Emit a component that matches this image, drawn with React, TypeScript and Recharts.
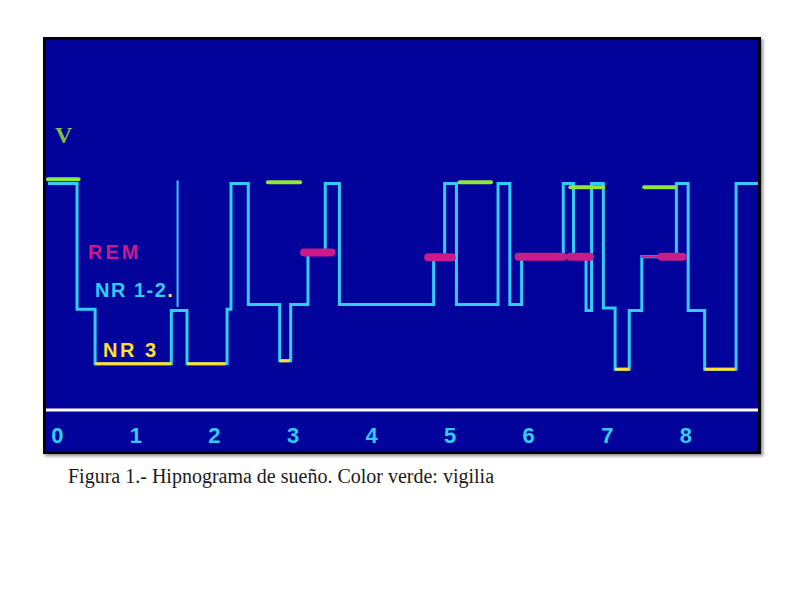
import { LineChart, Line, XAxis, YAxis } from "recharts";

// hours of sleep on the x axis
const hourTicks = [0, 1, 2, 3, 4, 5, 6, 7, 8];

// cyan hypnogram, stepAfter: V ≈ 4, REM ≈ 2.8, NR 1-2 ≈ 2, NR 3 ≈ 1
const stepHours = [
  -0.12, 0.25, 0.48, 1.45, 1.65, 2.16, 2.21, 2.43, 2.83, 2.97, 3.19, 3.41,
  3.59, 4.79, 4.93, 5.08, 5.61, 5.76, 5.91, 6.44, 6.57, 6.73, 6.8, 6.95, 7.1, 7.28, 7.44,
  7.88, 8.03, 8.24, 8.64, 8.92,
];
const stepLevels = [
  4.0, 1.92, 1.02, 1.9, 1.02, 1.92, 4.0, 2.0, 1.07, 2.0, 2.86, 4.0,
  2.0, 2.78, 4.0, 2.0, 4.0, 2.0, 2.79, 4.0, 2.79, 1.9, 4.0, 1.94, 0.93, 1.9, 2.79,
  4.0, 1.9, 0.93, 4.0, 4.0,
];

// thin brief arousal spike [hour, from, to]
const spikes = [[1.53, 1.96, 4.05]];

// green marks = vigilia [start, end, level]
const wakeMarks = [
  [-0.12, 0.27, 4.07],
  [2.68, 3.09, 4.02],
  [5.12, 5.52, 4.02],
  [6.53, 6.95, 3.94],
  [7.47, 7.86, 3.94],
];

// magenta REM blobs [start, end, level, width]
const remMarks = [
  [3.14, 3.49, 2.86, 8],
  [4.72, 5.02, 2.78, 8],
  [5.87, 6.44, 2.79, 8],
  [6.53, 6.78, 2.79, 8],
  [7.44, 7.71, 2.79, 2],
  [7.69, 7.96, 2.79, 8],
];

// yellow NR 3 floors [start, end, level]
const deepMarks = [
  [0.48, 1.45, 1.02],
  [1.65, 2.14, 1.02],
  [2.83, 2.96, 1.07],
  [7.1, 7.28, 0.93],
  [8.24, 8.63, 0.93],
];

const hypno = stepHours.map((h, i) => ({ h, v: stepLevels[i] }));
const seg = (a: number, b: number, v: number) => [
  { h: a, v },
  { h: b, v },
];

const CYAN = "#33ccff";
const GREEN = "#8ee83c";
const MAGENTA = "#cc1a8c";
const YELLOW = "#ffe033";
const BG = "#02039a";

export default function App() {
  return (
    <div style={{ position: "absolute", left: 0, top: 0, width: 800, height: 600, background: "#fff" }}>
      <div
        style={{
          position: "absolute",
          left: 43,
          top: 37,
          width: 718,
          height: 417,
          boxSizing: "border-box",
          border: "3px solid #000",
          background: BG,
          boxShadow: "2px 2px 3px rgba(0,0,0,0.45)",
        }}
      >
        <LineChart width={712} height={411} margin={{ top: 0, right: 0, bottom: 0, left: 0 }}>
          <XAxis
            type="number"
            dataKey="h"
            domain={[-0.145, 8.919]}
            ticks={hourTicks}
            allowDataOverflow
            height={41}
            axisLine={{ stroke: "#ffffff", strokeWidth: 3 }}
            tickLine={false}
            tickSize={0}
            tickMargin={17}
            tick={{ fill: CYAN, fontSize: 22, fontWeight: 700, fontFamily: "Liberation Sans, Arial, sans-serif" }}
          />
          <YAxis type="number" dataKey="v" domain={[0.256, 6.372]} hide allowDataOverflow />
          <Line
            data={hypno}
            dataKey="v"
            type="stepAfter"
            stroke={CYAN}
            strokeWidth={3}
            dot={false}
            isAnimationActive={false}
          />
          {spikes.map(([h, a, b], i) => (
            <Line
              key={"s" + i}
              data={[
                { h, v: a },
                { h, v: b },
              ]}
              dataKey="v"
              stroke={CYAN}
              strokeWidth={2}
              dot={false}
              isAnimationActive={false}
            />
          ))}
          {deepMarks.map(([a, b, v], i) => (
            <Line
              key={"d" + i}
              data={seg(a, b, v)}
              dataKey="v"
              stroke={YELLOW}
              strokeWidth={3}
              dot={false}
              isAnimationActive={false}
            />
          ))}
          {wakeMarks.map(([a, b, v], i) => (
            <Line
              key={"w" + i}
              data={seg(a, b, v)}
              dataKey="v"
              stroke={GREEN}
              strokeWidth={4}
              strokeLinecap="round"
              dot={false}
              isAnimationActive={false}
            />
          ))}
          {remMarks.map(([a, b, v, w], i) => (
            <Line
              key={"r" + i}
              data={seg(a, b, v)}
              dataKey="v"
              stroke={MAGENTA}
              strokeWidth={w}
              strokeLinecap="round"
              dot={false}
              isAnimationActive={false}
            />
          ))}
        </LineChart>
        <svg
          width={712}
          height={411}
          style={{ position: "absolute", left: 0, top: 0, pointerEvents: "none" }}
        >
          <text x={9} y={103} fill="#7cc243" fontSize={24} fontWeight={700} fontFamily="Liberation Serif, serif">
            V
          </text>
          <g fontFamily="Liberation Sans, Arial, sans-serif" fontWeight={700} fontSize={20}>
            <text x={42} y={219} fill={MAGENTA} letterSpacing={3}>
              REM
            </text>
            <text x={49} y={257} fill={CYAN} letterSpacing={1.5}>
              NR 1-2<tspan fill={YELLOW}>.</tspan>
            </text>
            <text x={57} y={317} fill={YELLOW} letterSpacing={2.5}>
              NR 3
            </text>
          </g>
        </svg>
      </div>
      <div
        style={{
          position: "absolute",
          left: 68,
          top: 466,
          fontFamily: "Liberation Serif, serif",
          fontSize: 20,
          color: "#1a1a1a",
          whiteSpace: "nowrap",
          lineHeight: "20px",
        }}
      >
        Figura 1.- Hipnograma de sueño. Color verde: vigilia
      </div>
    </div>
  );
}
